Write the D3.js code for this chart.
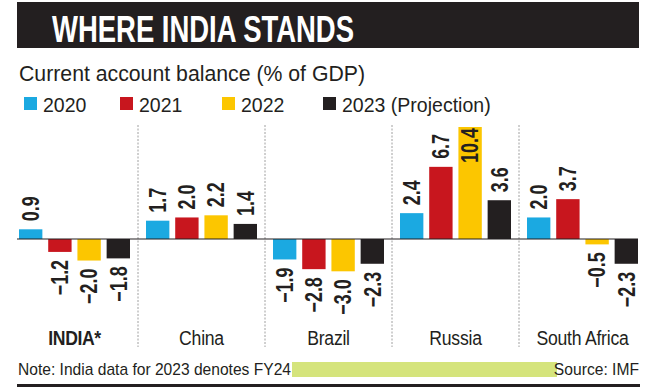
<!DOCTYPE html>
<html>
<head>
<meta charset="utf-8">
<script src="https://cdn.jsdelivr.net/npm/d3@7"></script>
<style>
  html, body { margin: 0; padding: 0; background: #fff; }
  svg { display: block; }
  text { font-family: "Liberation Sans", "Noto Sans", sans-serif; fill: #231f20; }
</style>
</head>
<body>
<svg id="chart" width="650" height="387"></svg>
<script>
  // chart data
  const countries = ["INDIA*", "China", "Brazil", "Russia", "South Africa"];
  const years = ["2020", "2021", "2022", "2023 (Projection)"];
  const v2020 = [0.9, 1.7, -1.9, 2.4, 2.0];
  const v2021 = [-1.2, 2.0, -2.8, 6.7, 3.7];
  const v2022 = [-2.0, 2.2, -3.0, 10.4, -0.5];
  const v2023 = [-1.8, 1.4, -2.3, 3.6, -2.3];
  const colors = ["#1ba9e1", "#c8161e", "#fcc600", "#231f20"];

  const series = [v2020, v2021, v2022, v2023];
  const rows = countries.map((c, i) => ({
    country: c,
    values: series.map((s, j) => ({ year: years[j], value: s[i] }))
  }));

  const svg = d3.select('#chart');

  // the original uses a condensed face, so squeeze text horizontally
  const squeeze = 0.84;

  // title bar
  svg.append('rect')
    .attr('x', 17).attr('y', 2)
    .attr('width', 622).attr('height', 46)
    .attr('fill', '#231f20');
  svg.append('text')
    .attr('x', 52).attr('y', 42)
    .attr('font-size', 37).attr('font-weight', 'bold')
    .style('fill', '#fff')
    .attr('textLength', 302).attr('lengthAdjust', 'spacingAndGlyphs')
    .text('WHERE INDIA STANDS');

  // subtitle
  svg.append('text')
    .attr('x', 19).attr('y', 81)
    .attr('font-size', 22)
    .attr('textLength', 346).attr('lengthAdjust', 'spacingAndGlyphs')
    .text('Current account balance (% of GDP)');

  // legend
  const legendX = [24, 120, 222, 323];
  const legend = svg.selectAll('g.legend').data(years).enter().append('g')
    .attr('class', 'legend')
    .attr('transform', (d, i) => `translate(${legendX[i]},97)`);
  legend.append('rect')
    .attr('width', 13).attr('height', 13)
    .attr('fill', (d, i) => colors[i]);
  legend.append('text')
    .attr('transform', 'translate(19,15) scale(0.93,1)')
    .attr('font-size', 21)
    .text(d => d);

  // scales
  const x0 = d3.scaleBand().domain(countries).range([11, 646]);
  const x1 = d3.scaleBand().domain(years).range([8, x0.bandwidth() - 8]).paddingInner(0.2);
  const y = d3.scaleLinear().domain([0, 10.4]).range([239, 127]);

  // dotted dividers between countries
  svg.selectAll('line.divider').data(countries.slice(1)).enter().append('line')
    .attr('class', 'divider')
    .attr('x1', d => x0(d)).attr('x2', d => x0(d))
    .attr('y1', 125).attr('y2', 347)
    .attr('stroke', '#a0a0a0')
    .attr('stroke-width', 1)
    .attr('stroke-dasharray', '2,1.5');

  const groups = svg.selectAll('g.country').data(rows).enter().append('g')
    .attr('class', 'country')
    .attr('transform', d => `translate(${x0(d.country)},0)`);

  groups.selectAll('rect').data(d => d.values).enter().append('rect')
    .attr('x', d => x1(d.year))
    .attr('y', d => y(Math.max(0, d.value)))
    .attr('width', x1.bandwidth())
    .attr('height', d => Math.abs(y(d.value) - y(0)))
    .attr('fill', (d, i) => colors[i]);

  // value labels, rotated to read upwards
  const fmt = v => (v < 0 ? '\u2212' : '') + d3.format('.1f')(Math.abs(v));
  groups.selectAll('text.val').data(d => d.values).enter().append('text')
    .attr('class', 'val')
    .attr('font-size', 23).attr('font-weight', 'bold')
    .attr('dy', '0.36em')
    .attr('text-anchor', d => d.value >= 0 && d.value < 8 ? 'start' : 'end')
    .attr('transform', d => {
      const cx = x1(d.year) + x1.bandwidth() / 2;
      let py;
      if (d.value < 0) py = y(d.value) + 8;
      else if (d.value < 8) py = y(d.value) - 8;
      else py = y(d.value) + 1; // too tall: label sits inside the bar
      return `translate(${cx},${py}) rotate(-90) scale(0.78,1)`;
    })
    .text(d => fmt(d.value));

  // zero line
  const first = x0(countries[0]) + x1(years[0]);
  const last = x0(countries[countries.length - 1]) + x1(years[years.length - 1]) + x1.bandwidth();
  svg.append('line')
    .attr('x1', first - 2).attr('x2', last)
    .attr('y1', y(0)).attr('y2', y(0))
    .attr('stroke', '#231f20').attr('stroke-width', 1.2);

  // country labels
  svg.selectAll('text.cat').data(countries).enter().append('text')
    .attr('class', 'cat')
    .attr('transform', d => `translate(${x0(d) + x0.bandwidth() / 2},345) scale(${squeeze},1)`)
    .attr('text-anchor', 'middle')
    .attr('font-size', 21)
    .attr('font-weight', (d, i) => i === 0 ? 'bold' : 'normal')
    .attr('letter-spacing', (d, i) => i === 0 ? '-0.5' : '-0.3')
    .text(d => d);

  // footer
  svg.append('rect')
    .attr('x', 292).attr('y', 362)
    .attr('width', 265).attr('height', 15)
    .attr('fill', '#d5e47c');
  svg.append('text')
    .attr('x', 18).attr('y', 375)
    .attr('font-size', 17)
    .attr('textLength', 273).attr('lengthAdjust', 'spacingAndGlyphs')
    .text('Note: India data for 2023 denotes FY24');
  svg.append('text')
    .attr('transform', 'translate(639,375) scale(0.92,1)')
    .attr('text-anchor', 'end')
    .attr('font-size', 17)
    .text('Source: IMF');
  svg.append('rect')
    .attr('x', 17).attr('y', 384)
    .attr('width', 623).attr('height', 3)
    .attr('fill', '#231f20');
</script>
</body>
</html>
